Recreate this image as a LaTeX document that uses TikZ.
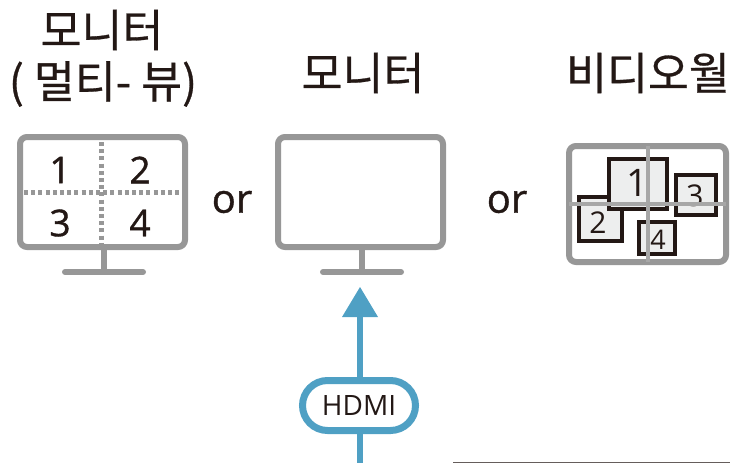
\documentclass[tikz,border=0pt]{standalone}
\usepackage{fontspec}
\setmainfont{Open Sans}
\newfontfamily\kr[FakeBold=0.6]{Noto Sans CJK KR}
\newfontfamily\med[FakeBold=1]{Open Sans}
\definecolor{mgray}{HTML}{979797}
\definecolor{hblue}{HTML}{4FA0C4}
\definecolor{ink}{HTML}{231815}
\definecolor{winfill}{HTML}{EDEEEE}
\usetikzlibrary{shapes.misc}
\tikzset{
  screen/.style={draw=mgray,line width=6pt,rounded corners=7pt,fill=white},
  standline/.style={draw=mgray,line width=6pt},
  baseline/.style={draw=mgray,line width=6pt,line cap=round},
  dotline/.style={draw=mgray,line width=5pt,dash pattern=on 4pt off 3.2pt},
  crossline/.style={draw=mgray!85,line width=3.5pt},
  win/.style={draw=ink,line width=3.6pt,fill=winfill},
  title/.style={font=\kr\fontsize{44.5}{50}\selectfont,text=ink,align=center,inner sep=0pt},
  digit/.style={font=\med\fontsize{37}{40}\selectfont,text=ink,inner sep=0pt},
  bigwindigit/.style={font=\fontsize{38}{40}\selectfont,text=ink,inner sep=0pt},
  smalldigit/.style={font=\fontsize{30}{32}\selectfont,text=ink,inner sep=0pt},
  tinydigit/.style={font=\fontsize{27}{30}\selectfont,text=ink,inner sep=0pt},
  ortext/.style={font=\med\fontsize{40}{44}\selectfont,text=ink,inner sep=0pt},
  pill/.style={draw=hblue,line width=7pt,fill=white,rounded rectangle,minimum width=113pt,minimum height=50pt,inner sep=0pt,text=ink,font=\fontsize{28}{32}\selectfont},
}
\begin{document}
\begin{tikzpicture}[x=1pt,y=-1pt]
\useasboundingbox (0,0) rectangle (730,463);
% left monitor
\draw[screen] (20,137) rectangle (185,247);
\draw[dotline] (101,142) -- (101,245);
\draw[dotline] (24,192) -- (184,192);
\coordinate (s1a) at (104,250); \coordinate (s1b) at (104,272);
\draw[standline] (s1a) -- (s1b);
\draw[baseline] (65,272) -- (143,272);
\node[digit] (d1) at (60,170) {1};
\node[digit] (d2) at (140,170) {2};
\node[digit] (d3) at (60,223) {3};
\node[digit] (d4) at (140,223) {4};
\node[ortext] (or1) at (232,202) {or};
% center monitor
\draw[screen] (278,137) rectangle (443,247);
\coordinate (s2a) at (362,250); \coordinate (s2b) at (362,272);
\draw[standline] (s2a) -- (s2b);
\draw[baseline] (323,272) -- (401,272);
\node[ortext] (or2) at (507,202) {or};
% right monitor
\draw[screen] (569,146) rectangle (726,262);
\draw[win] (579,197) rectangle (622,241);
\draw[win] (609,159) rectangle (667,209);
\draw[win] (676,175) rectangle (716,215);
\draw[win] (639,222) rectangle (675,254);
\node[bigwindigit] (w1) at (637,183) {1};
\node[smalldigit] (w2) at (598,223) {2};
\node[smalldigit] (w3) at (695,196) {3};
\node[tinydigit] (w4) at (658,240) {4};
\draw[crossline] (648,146) -- (648,262);
\draw[crossline] (569,204) -- (726,204);
% titles
\node[title] (t1) at (102,30) {모니터};
\node[title] (t2) at (103,84) {( 멀티- 뷰)};
\node[title] (t3) at (363,73) {모니터};
\node[title] (t4) at (648,73) {비디오월};
% HDMI
\node[pill] (hdmi) at (359,405.5) {HDMI};
\coordinate (bot) at (360,463);
\coordinate (tip) at (360,287);
\fill[hblue] (tip) -- (378,317) -- (342,317) -- cycle;
\draw[hblue,line width=6pt] (360,316) -- (hdmi.north -| tip);
\draw[hblue,line width=6pt] (hdmi.south -| tip) -- (bot);
% bottom-right line
\coordinate (la) at (453,462.5); \coordinate (lb) at (730,462.5);
\draw[ink!70,line width=1pt] (la) -- (lb);
\end{tikzpicture}
\end{document}
